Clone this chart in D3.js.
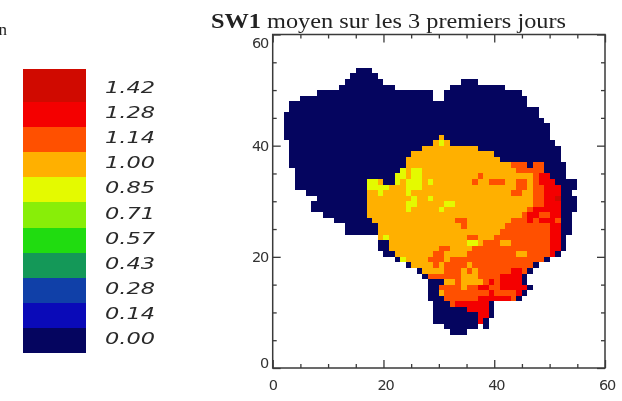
<!DOCTYPE html>
<html><head><meta charset="utf-8">
<script src="https://cdn.jsdelivr.net/npm/d3@7"></script>
<style>html,body{margin:0;padding:0;background:#fff}svg{display:block;filter:blur(0.35px)}</style>
</head><body><svg id="c" width="622" height="401"></svg>
<script>
// Legend
const levelValues = [0.00,0.14,0.28,0.43,0.57,0.71,0.85,1.00,1.14,1.28,1.42];
const levelLabels = ["0.00","0.14","0.28","0.43","0.57","0.71","0.85","1.00","1.14","1.28","1.42"];
const levelColors = ["#05055f","#0a0ab8","#1040a8","#149858","#20dc10","#88ee08","#e4fa00","#ffb000","#ff5000","#f40000","#d00a00"];
const levelCodes = {N:0,Y:6,A:7,O:8,R:9,D:10};
const xMajor = [0,20,40,60];
const yMajor = [0,20,40,60];
const minorTicks = [5,10,15,25,30,35,45,50,55];
const titleBold = "SW1";
const titleRest = " moyen sur les 3 premiers jours";
// Field: row index -> runs "<level><firstCol>-<lastCol>", later runs overwrite earlier ones
const fieldRows = {
53:"N15-17",52:"N14-18",51:"N13-19 N34-36",50:"N12-21 N32-41",49:"N8-28 N31-44",48:"N5-28 N31-45",
47:"N3-45",46:"N3-47",45:"N2-47",44:"N2-48",43:"N2-49",42:"N2-49",
41:"N2-49 A30",
40:"N3-50 A29 Y30 A31",
39:"N3-51 A27-36",
38:"N3-51 A25-39",
37:"N3-51 A24-40",
36:"N3-52 A24-42 O43-45 N46 O47-48",
35:"N4-52 Y23 A24-43 Y25-26 O44-48",
34:"N4-52 Y22-23 A24-46 Y25-26 O37 O47 R48-49",
33:"N4-54 Y17-18 A19 Y22 A23 Y24-26 A27 Y28 A29-46 O36 O39-41 O44-45 O47 R48-50",
32:"N4-54 Y17-20 A21-46 Y24-26 O44-45 O47-48 R49-51",
31:"N6-53 A17-46 Y19 Y24 O43-44 O47-48 R49-51",
30:"N8-54 A17-46 Y25 Y28 O47-48 R49-51 D51",
29:"N7-54 A17-46 Y24-25 Y31-32 O47-48 R49-51",
28:"N7-54 A17-45 Y24 Y30 O46 R47-51",
27:"N9-53 A17-44 O45 R46-47 O48-49 R50-51",
26:"N11-53 A18-42 O33-34 O43-45 R46 O47 R48-50 O51",
25:"N13-53 A19-41 O34 O42-49 R50-51",
24:"N13-53 A19-40 O41-49 R50-51",
23:"N52 A19 Y20 A21-39 O35-36 O40-49 R50-51",
22:"N19-20 N52 A21-37 Y35-36 O38-49 A41-42 R50-51",
21:"N19-20 N52 A21-35 O30-31 O36-49 R50-51",
20:"N20-21 N51 A22-34 O29-30 O35-43 A44-45 O46-49 R50",
19:"N22 N49 Y23 A24-31 O28-30 O32-48",
18:"N24 N47 A25-30 O29 O31-46 A35",
17:"N26 N46 A27-30 O31-42 A34 A36 R43-44 O45",
16:"N27 N45 O28-33 A34-36 O37-40 R41-44",
15:"N28-30 N45 A31-32 O33 A34-37 O38 R39 O40 R41-44",
14:"N28-29 N46 O30-33 A34 O35-36 R37-38 O39-40 R41-45",
13:"N28-29 N45 A30 O31-38 R39 O40-43 R44",
12:"N28-30 N44 O31-36 R37-42 O43",
11:"N29-31 N39 O32 R33-38",
10:"N29-34 N39 R35-38",
9:"N29-36 N39 R37-38",
8:"N29-36 N38 R37",
7:"N31-36 N38",
6:"N32-34"
};

const cells = [];
Object.keys(fieldRows).forEach(k=>{
  const row = new Map();
  fieldRows[k].split(" ").forEach(r=>{
    const m = r.match(/^([A-Z])(\d+)(?:-(\d+))?$/);
    const a=+m[2], b=m[3]?+m[3]:a;
    for(let c=a;c<=b;c++) row.set(c,levelCodes[m[1]]);
  });
  row.forEach((lvl,c)=>cells.push({row:+k,col:c,lvl}));
});

const svg = d3.select("#c");
const x = d3.scaleLinear().domain([0,60]).range([272.7,605]);
const y = d3.scaleLinear().domain([0,60]).range([368,34.5]);
const ink = "#3a3a3a";

// field
svg.append("g").attr("shape-rendering","crispEdges").selectAll("rect").data(cells).join("rect")
  .attr("x",d=>x(d.col)).attr("y",d=>y(d.row+1))
  .attr("width",d=>x(d.col+1)-x(d.col)).attr("height",d=>y(d.row)-y(d.row+1))
  .attr("fill",d=>levelColors[d.lvl]);

// frame and ticks
const frame = svg.append("g");
function ticks(axisFn, scale, vals, size, tx, ty){
  const g = frame.append("g").attr("transform",`translate(${tx},${ty})`)
    .call(axisFn(scale).tickValues(vals).tickSize(size).tickFormat("").tickSizeOuter(0));
  g.selectAll("line").attr("stroke",ink).attr("stroke-width",1.3);
  g.select(".domain").remove();
}
const top_=y(60),bot=y(0),lef=x(0),rig=x(60);
ticks(d3.axisTop,x,xMajor,8,0,bot); ticks(d3.axisTop,x,minorTicks,4,0,bot);
ticks(d3.axisBottom,x,xMajor,8,0,top_); ticks(d3.axisBottom,x,minorTicks,4,0,top_);
ticks(d3.axisRight,y,yMajor,8,lef,0); ticks(d3.axisRight,y,minorTicks,4,lef,0);
ticks(d3.axisLeft,y,yMajor,8,rig,0); ticks(d3.axisLeft,y,minorTicks,4,rig,0);
frame.append("rect").attr("x",lef).attr("y",top_).attr("width",rig-lef).attr("height",bot-top_)
  .attr("fill","none").attr("stroke",ink).attr("stroke-width",1.5);

// axis labels
const labFont='"DejaVu Sans",sans-serif';
svg.append("g").selectAll("text").data(xMajor).join("text")
  .attr("x",d=>x(d)+(d===0?0:2)).attr("y",390).attr("text-anchor","middle")
  .attr("font-family",labFont).attr("font-size",14.5).attr("letter-spacing",-1.2).attr("fill","#333").text(d=>d);
svg.append("g").selectAll("text").data(yMajor).join("text")
  .attr("x",268).attr("y",d=>y(d)+(d===60?13:d===0?0:5)).attr("text-anchor","end")
  .attr("font-family",labFont).attr("font-size",14.5).attr("letter-spacing",-1.2).attr("fill","#333").text(d=>d);

// title
const t = svg.append("text").attr("x",211).attr("y",28)
  .attr("font-family",'"Liberation Serif",serif').attr("font-size",22).attr("fill","#222")
  .attr("textLength",355).attr("lengthAdjust","spacingAndGlyphs");
t.append("tspan").attr("font-weight","bold").text(titleBold);
t.append("tspan").text(titleRest);

// clipped text at the left edge
svg.append("text").attr("x",-1.5).attr("y",35).attr("font-family",'"Liberation Serif",serif')
  .attr("font-size",17).attr("fill","#222").text("n");

// legend
const ly = d3.scaleLinear().domain([0,10]).range([352.7,102.3]);
const legendTop = 68.7;
svg.append("g").attr("shape-rendering","crispEdges").selectAll("rect").data(levelValues).join("rect")
  .attr("x",23.3).attr("width",63)
  .attr("y",(d,i)=> i===10 ? legendTop : ly(i+1))
  .attr("height",(d,i)=> i===10 ? ly(10)-legendTop : ly(i)-ly(i+1))
  .attr("fill",(d,i)=>levelColors[i]);
svg.append("g").selectAll("text").data(levelLabels).join("text")
  .attr("x",105).attr("y",(d,i)=>ly(i)-9)
  .attr("font-family",'"DejaVu Sans",sans-serif').attr("font-style","italic").attr("font-size",16.5)
  .attr("fill","#2a2a2a").attr("textLength",50).attr("lengthAdjust","spacingAndGlyphs").text(d=>d);
</script></body></html>
